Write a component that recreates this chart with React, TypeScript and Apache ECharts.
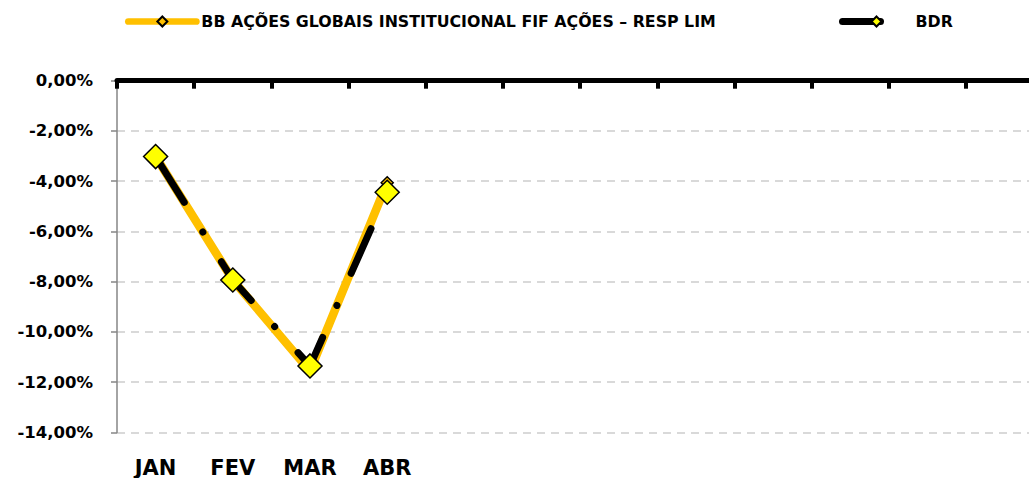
import { useEffect, useRef } from 'react';
import * as echarts from 'echarts';

const months = ['JAN', 'FEV', 'MAR', 'ABR', 'MAI', 'JUN', 'JUL', 'AGO', 'SET', 'OUT', 'NOV', 'DEZ'];
const bbName = 'BB AÇÕES GLOBAIS INSTITUCIONAL FIF AÇÕES – RESP LIM';
const bdrName = 'BDR';
const bbValues = [-3.02, -7.93, -11.55, -4.06];
const bdrValues = [-3.02, -7.93, -11.35, -4.44];
const yMin = -14;
const yMax = 0;
const yStep = 2;

const FONT = 'DejaVu Sans';

export default function App() {
  const ref = useRef<HTMLDivElement>(null);
  useEffect(() => {
    if (!ref.current) return;
    const chart = echarts.init(ref.current, null, { renderer: 'svg' });
    const legendText = { fontFamily: FONT, fontWeight: 'bold' as const, fontSize: 15.8, color: '#000' };
    chart.setOption({
      animation: false,
      backgroundColor: '#fff',
      legend: [
        {
          data: [bbName],
          left: 125,
          top: 13.5,
          padding: 0,
          itemWidth: 68,
          itemHeight: 12.5,
          textStyle: legendText,
          lineStyle: { width: 6.7, cap: 'round', type: 'solid' },
          selectedMode: false,
        },
        {
          data: [bdrName],
          left: 839,
          top: 13.5,
          padding: 0,
          itemWidth: 68,
          itemHeight: 12.5,
          textStyle: legendText,
          lineStyle: { width: 7, cap: 'round', type: [38, 100], dashOffset: 0 },
          selectedMode: false,
        },
      ],
      grid: { left: 117, top: 80.7, width: 926.4, height: 352, containLabel: false },
      xAxis: [
        {
          type: 'category',
          data: months,
          position: 'top',
          boundaryGap: true,
          axisLine: { show: true, onZero: false, lineStyle: { color: '#000', width: 5 } },
          axisTick: { show: true, inside: true, length: 8, lineStyle: { color: '#000', width: 4 } },
          axisLabel: { show: false },
          splitLine: { show: false },
          z: 5,
        },
        {
          type: 'category',
          data: months,
          position: 'bottom',
          boundaryGap: true,
          axisLine: { show: false },
          axisTick: { show: false },
          splitLine: { show: false },
          axisLabel: {
            show: true,
            interval: 0,
            margin: 35,
            verticalAlign: 'middle',
            fontFamily: FONT,
            fontWeight: 'bold',
            fontSize: 21,
            color: '#000',
            formatter: (v: string, i: number) => (i < bbValues.length ? v : ''),
          },
        },
      ],
      yAxis: {
        type: 'value',
        min: yMin,
        max: yMax,
        interval: yStep,
        axisLine: { show: true, onZero: false, lineStyle: { color: '#868686', width: 1.5 } },
        axisTick: { show: true, length: 6, lineStyle: { color: '#868686', width: 1.5 } },
        axisLabel: {
          margin: 24,
          fontFamily: FONT,
          fontWeight: 'bold',
          fontSize: 16.5,
          color: '#000',
          formatter: (v: number) => v.toFixed(2).replace('.', ',') + '%',
        },
        splitLine: { show: true, lineStyle: { color: '#D9D9D9', width: 2, type: [8, 6] } },
      },
      series: [
        {
          name: bbName,
          type: 'line',
          xAxisIndex: 0,
          data: bbValues,
          symbol: 'diamond',
          symbolSize: 12,
          lineStyle: { color: '#FFC000', width: 8.5, cap: 'round', join: 'round' },
          itemStyle: { color: '#FFC000', borderColor: '#000', borderWidth: 1.5 },
        },
        {
          name: bdrName,
          type: 'line',
          xAxisIndex: 0,
          data: bdrValues,
          symbol: 'diamond',
          symbolSize: 24,
          lineStyle: { color: '#000', width: 7, type: [49, 35, 0.1, 35], dashOffset: -4.7, cap: 'round', join: 'round' },
          itemStyle: { color: '#FFFF00', borderColor: '#000', borderWidth: 1.5 },
        },
      ],
    });
    return () => chart.dispose();
  }, []);
  return (
    <div style={{ position: 'fixed', left: 0, top: 0, width: 1029, height: 478, overflow: 'hidden', background: '#fff' }}>
      <div ref={ref} style={{ width: 1060, height: 478 }} />
    </div>
  );
}
